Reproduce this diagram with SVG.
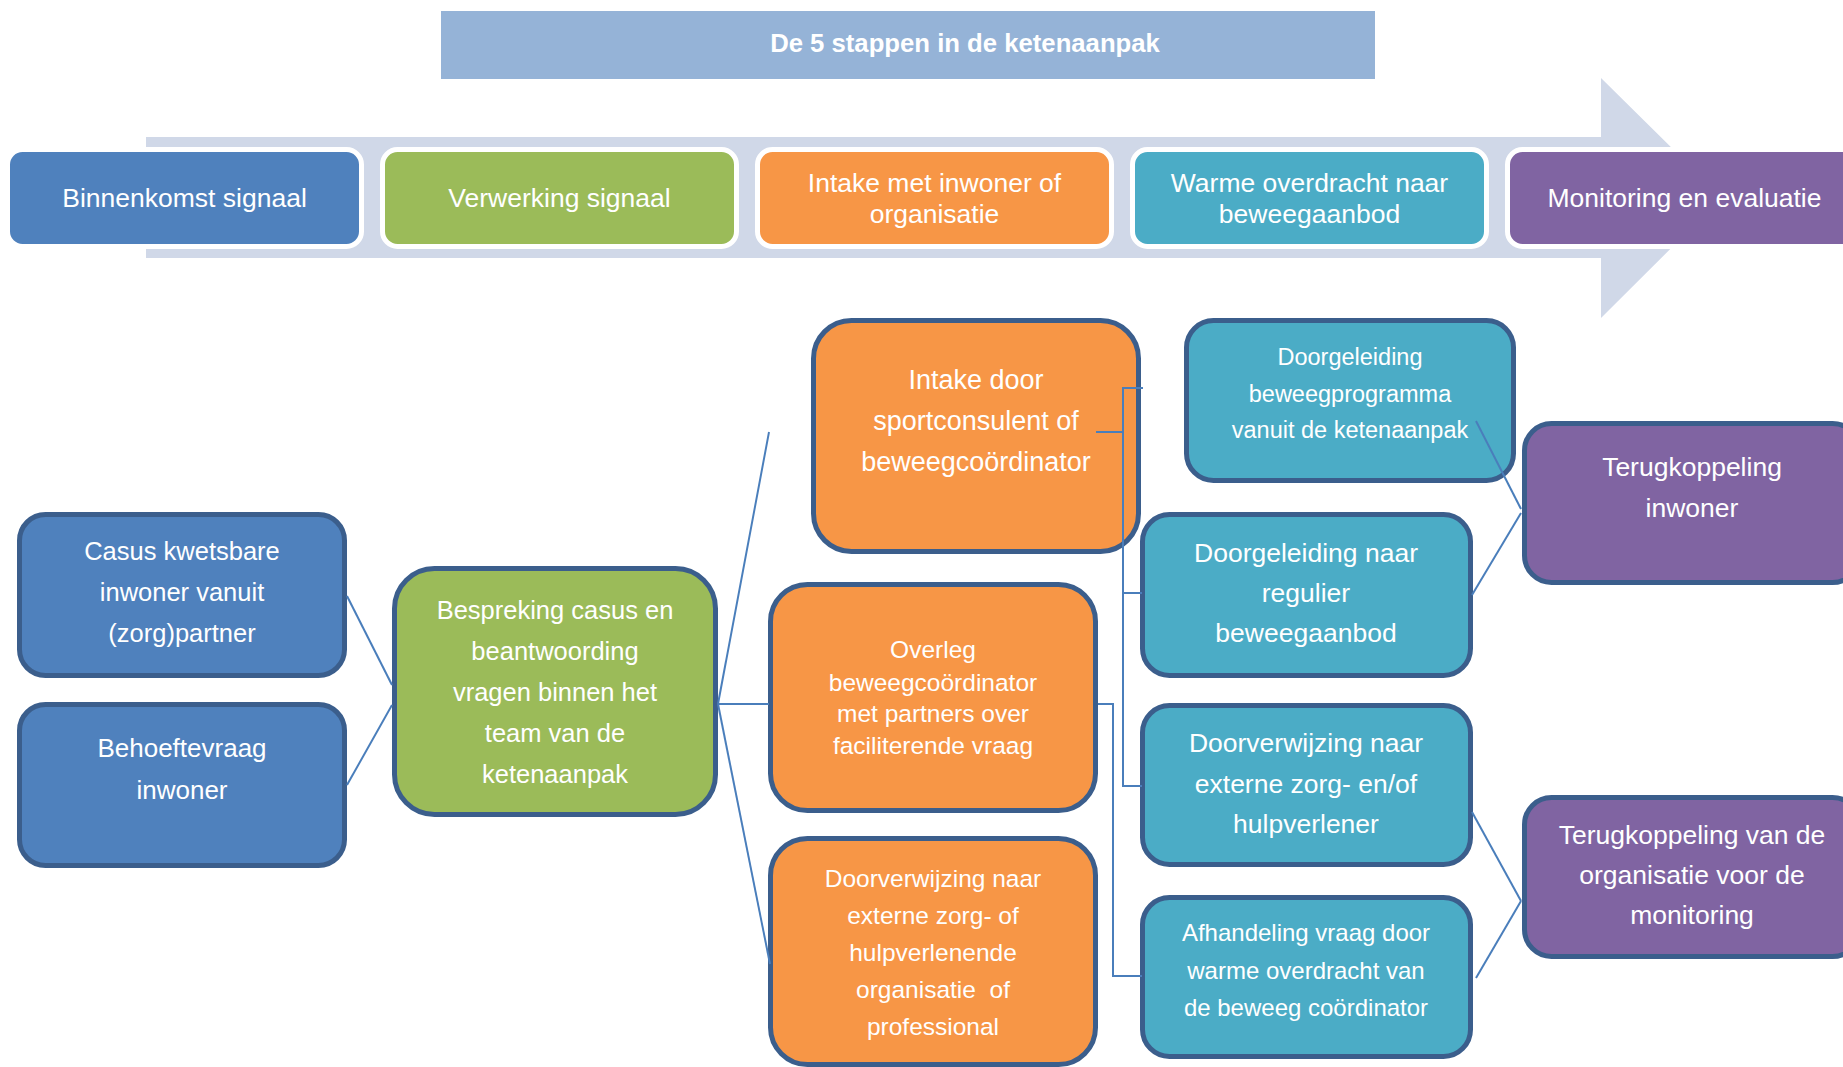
<svg xmlns="http://www.w3.org/2000/svg" width="1843" height="1067" viewBox="0 0 1843 1067">
<style>
text{font-family:"Liberation Sans",Arial,sans-serif;fill:#fff;text-anchor:middle}
.step{stroke:#fff;stroke-width:5}
.node{stroke:#3B5E8C;stroke-width:5}
.blue{fill:#4F81BD}.green{fill:#9BBB59}.orange{fill:#F79646}.teal{fill:#4BACC6}.purple{fill:#8064A2}
.s{font-size:26.5px}
.conn line,.conn polyline{stroke:#4A7EBB;stroke-width:2;fill:none}
</style>
<rect x="0" y="0" width="1843" height="1067" fill="#fff"/>
<g id="title">
<rect x="441" y="11" width="934" height="68" fill="#95B3D7"/>
<text x="965" y="52" style="font-size:25.7px;font-weight:bold">De 5 stappen in de ketenaanpak</text>
</g>
<g id="arrow">
<polygon points="146,137 1601,137 1601,78 1722,197.5 1601,318 1601,258 146,258" fill="#D0D8E8"/>
</g>
<g id="step1"><rect class="step blue" x="7.5" y="149.5" width="354" height="97" rx="15"/><text class="s" x="184.5" y="207">Binnenkomst signaal</text></g>
<g id="step2"><rect class="step green" x="382.5" y="149.5" width="354" height="97" rx="15"/><text class="s" x="559.5" y="207">Verwerking signaal</text></g>
<g id="step3"><rect class="step orange" x="757.5" y="149.5" width="354" height="97" rx="15"/><text class="s" x="934.5" y="192">Intake met inwoner of</text><text class="s" x="934.5" y="223">organisatie</text></g>
<g id="step4"><rect class="step teal" x="1132.5" y="149.5" width="354" height="97" rx="15"/><text class="s" x="1309.5" y="192">Warme overdracht naar</text><text class="s" x="1309.5" y="223">beweegaanbod</text></g>
<g id="step5"><rect class="step purple" x="1507.5" y="149.5" width="354" height="97" rx="15"/><text class="s" x="1684.5" y="207">Monitoring en evaluatie</text></g>

<g id="casus"><rect class="node blue" x="19.5" y="514.5" width="325" height="161" rx="26"/>
<text style="font-size:25.5px" x="182" y="560">Casus kwetsbare</text><text style="font-size:25.5px" x="182" y="601">inwoner vanuit</text><text style="font-size:25.5px" x="182" y="642">(zorg)partner</text></g>
<g id="behoefte"><rect class="node blue" x="19.5" y="704.5" width="325" height="161" rx="26"/>
<text style="font-size:26px" x="182" y="757">Behoeftevraag</text><text style="font-size:26px" x="182" y="799">inwoner</text></g>
<g id="bespreking"><rect class="node green" x="394.5" y="568.5" width="321" height="246" rx="40"/>
<text style="font-size:25.5px" x="555" y="619">Bespreking casus en</text><text style="font-size:25.5px" x="555" y="660">beantwoording</text><text style="font-size:25.5px" x="555" y="701">vragen binnen het</text><text style="font-size:25.5px" x="555" y="742">team van de</text><text style="font-size:25.5px" x="555" y="783">ketenaanpak</text></g>
<g id="intake"><rect class="node orange" x="813.5" y="320.5" width="325" height="231" rx="38"/>
<text style="font-size:27px" x="976" y="389">Intake door</text><text style="font-size:27px" x="976" y="430">sportconsulent of</text><text style="font-size:27px" x="976" y="471">beweegcoördinator</text></g>
<g id="overleg"><rect class="node orange" x="770.5" y="584.5" width="325" height="226" rx="37"/>
<text style="font-size:24.5px" x="933" y="658">Overleg</text><text style="font-size:24.5px" x="933" y="691">beweegcoördinator</text><text style="font-size:24.5px" x="933" y="722">met partners over</text><text style="font-size:24.5px" x="933" y="754">faciliterende vraag</text></g>
<g id="doorverwijzing-org"><rect class="node orange" x="770.5" y="838.5" width="325" height="226" rx="37"/>
<text style="font-size:24.5px" x="933" y="887">Doorverwijzing naar</text><text style="font-size:24.5px" x="933" y="924">externe zorg- of</text><text style="font-size:24.5px" x="933" y="961">hulpverlenende</text><text style="font-size:24.5px;white-space:pre" x="933" y="998">organisatie  of</text><text style="font-size:24.5px" x="933" y="1035">professional</text></g>
<g id="beweegprogramma"><rect class="node teal" x="1186.5" y="320.5" width="327" height="160" rx="27"/>
<text style="font-size:23.5px" x="1350" y="365">Doorgeleiding</text><text style="font-size:23.5px" x="1350" y="402">beweegprogramma</text><text style="font-size:23.5px" x="1350" y="438">vanuit de ketenaanpak</text></g>
<g id="regulier"><rect class="node teal" x="1142.5" y="514.5" width="328" height="161" rx="27"/>
<text class="s" x="1306" y="562">Doorgeleiding naar</text><text class="s" x="1306" y="602">regulier</text><text class="s" x="1306" y="642">beweegaanbod</text></g>
<g id="doorverwijzing-hulp"><rect class="node teal" x="1142.5" y="705.5" width="328" height="159" rx="27"/>
<text class="s" x="1306" y="752">Doorverwijzing naar</text><text class="s" x="1306" y="793">externe zorg- en/of</text><text class="s" x="1306" y="833">hulpverlener</text></g>
<g id="afhandeling"><rect class="node teal" x="1142.5" y="897.5" width="328" height="159" rx="27"/>
<text style="font-size:24px" x="1306" y="941">Afhandeling vraag door</text><text style="font-size:24px" x="1306" y="979">warme overdracht van</text><text style="font-size:24px" x="1306" y="1016">de beweeg coördinator</text></g>
<g id="terug-inwoner"><rect class="node purple" x="1524.5" y="423.5" width="335" height="159" rx="27"/>
<text class="s" x="1692" y="476">Terugkoppeling</text><text class="s" x="1692" y="517">inwoner</text></g>
<g id="terug-organisatie"><rect class="node purple" x="1524.5" y="797.5" width="335" height="159" rx="27"/>
<text class="s" x="1692" y="844">Terugkoppeling van de</text><text class="s" x="1692" y="884">organisatie voor de</text><text class="s" x="1692" y="924">monitoring</text></g>

<g id="connectors" class="conn">
<line x1="347" y1="596" x2="392" y2="685"/>
<line x1="347" y1="785" x2="392" y2="705"/>
<line x1="718" y1="704" x2="769" y2="432"/>
<line x1="718" y1="704" x2="769" y2="704"/>
<line x1="718" y1="704" x2="770" y2="964"/>
<line x1="1096" y1="432" x2="1123" y2="432"/>
<line x1="1123" y1="388" x2="1123" y2="786"/>
<line x1="1122" y1="388" x2="1143" y2="388"/>
<line x1="1123" y1="593" x2="1142" y2="593"/>
<line x1="1122" y1="786" x2="1142" y2="786"/>
<polyline points="1098,704 1113,704 1113,976 1142,976"/>
<line x1="1476" y1="421" x2="1521" y2="509"/>
<line x1="1472" y1="595" x2="1521" y2="513"/>
<line x1="1472" y1="812" x2="1521" y2="901"/>
<line x1="1476" y1="978" x2="1521" y2="901"/>
</g>
</svg>
